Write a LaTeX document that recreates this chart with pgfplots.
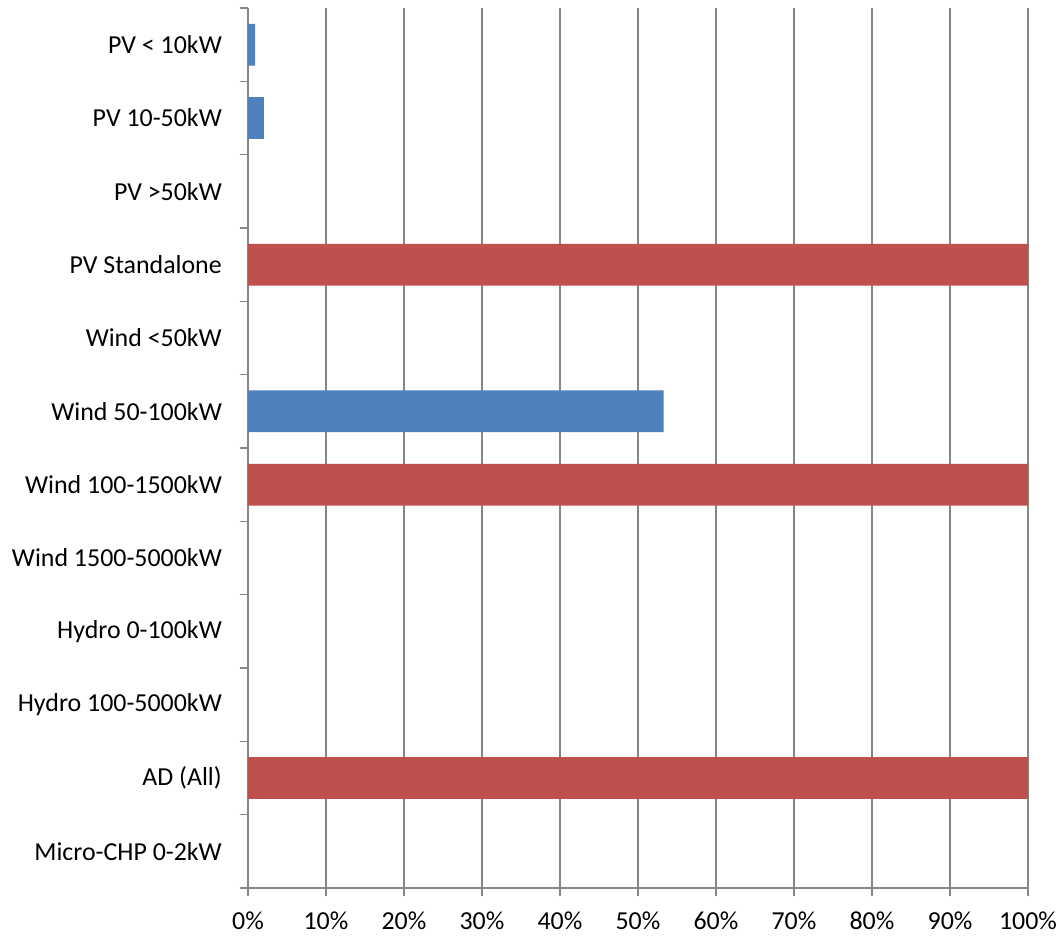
\documentclass[border=0pt]{standalone}
\usepackage{pgfplots}
\pgfplotsset{compat=1.18}
\usepackage{fontspec}
\setmainfont{Carlito}

\definecolor{barblue}{HTML}{4F81BD}
\definecolor{barred}{HTML}{C0504D}
\definecolor{gridgray}{HTML}{868686}

\begin{document}
\begin{tikzpicture}
\fontsize{26}{31}\selectfont
\begin{axis}[
    name=a,
    scale only axis,
    width=780bp, height=880bp,
    xmin=0, xmax=100,
    ymin=-0.5, ymax=11.5,
    y dir=reverse,
    xbar, bar shift=0pt, bar width=0.57,
    axis x line*=bottom,
    axis y line*=left,
    axis line style={gridgray, line width=1.3bp},
    xtick={0,10,...,100},
    xticklabel={\pgfmathprintnumber{\tick}\%},
    /pgf/number format/assume math mode=true,
    xmajorgrids,
    major grid style={gridgray, line width=1.3bp},
    x tick style={gridgray, line width=1.3bp},
    tick align=outside,
    major tick length=8bp,
    minor tick length=8bp,
    ytick={0,...,11},
    y tick style={draw=none},
    minor ytick={-0.5,0.5,...,11.5},
    minor y tick style={draw=gridgray, line width=1.3bp},
    yticklabels={PV < 10kW, PV 10-50kW, PV >50kW, PV Standalone, Wind <50kW,
        Wind 50-100kW, Wind 100-1500kW, Wind 1500-5000kW, Hydro 0-100kW,
        Hydro 100-5000kW, AD (All), Micro-CHP 0-2kW},
    yticklabel style={anchor=east, inner sep=0pt, xshift=-18bp},
    xticklabel style={anchor=north, inner sep=0pt, yshift=-16bp},
    tick label style={font=\fontsize{26}{31}\selectfont},
]
\addplot[draw=none, fill=barblue] coordinates {(0.9,0) (2.05,1) (53.3,5)};
\addplot[draw=none, fill=barred] coordinates {(100,3) (100,6) (100,10)};
\end{axis}
\path ([xshift=-248bp,yshift=8bp]a.north west) rectangle ([xshift=32bp,yshift=-48bp]a.south east);
\end{tikzpicture}
\end{document}
